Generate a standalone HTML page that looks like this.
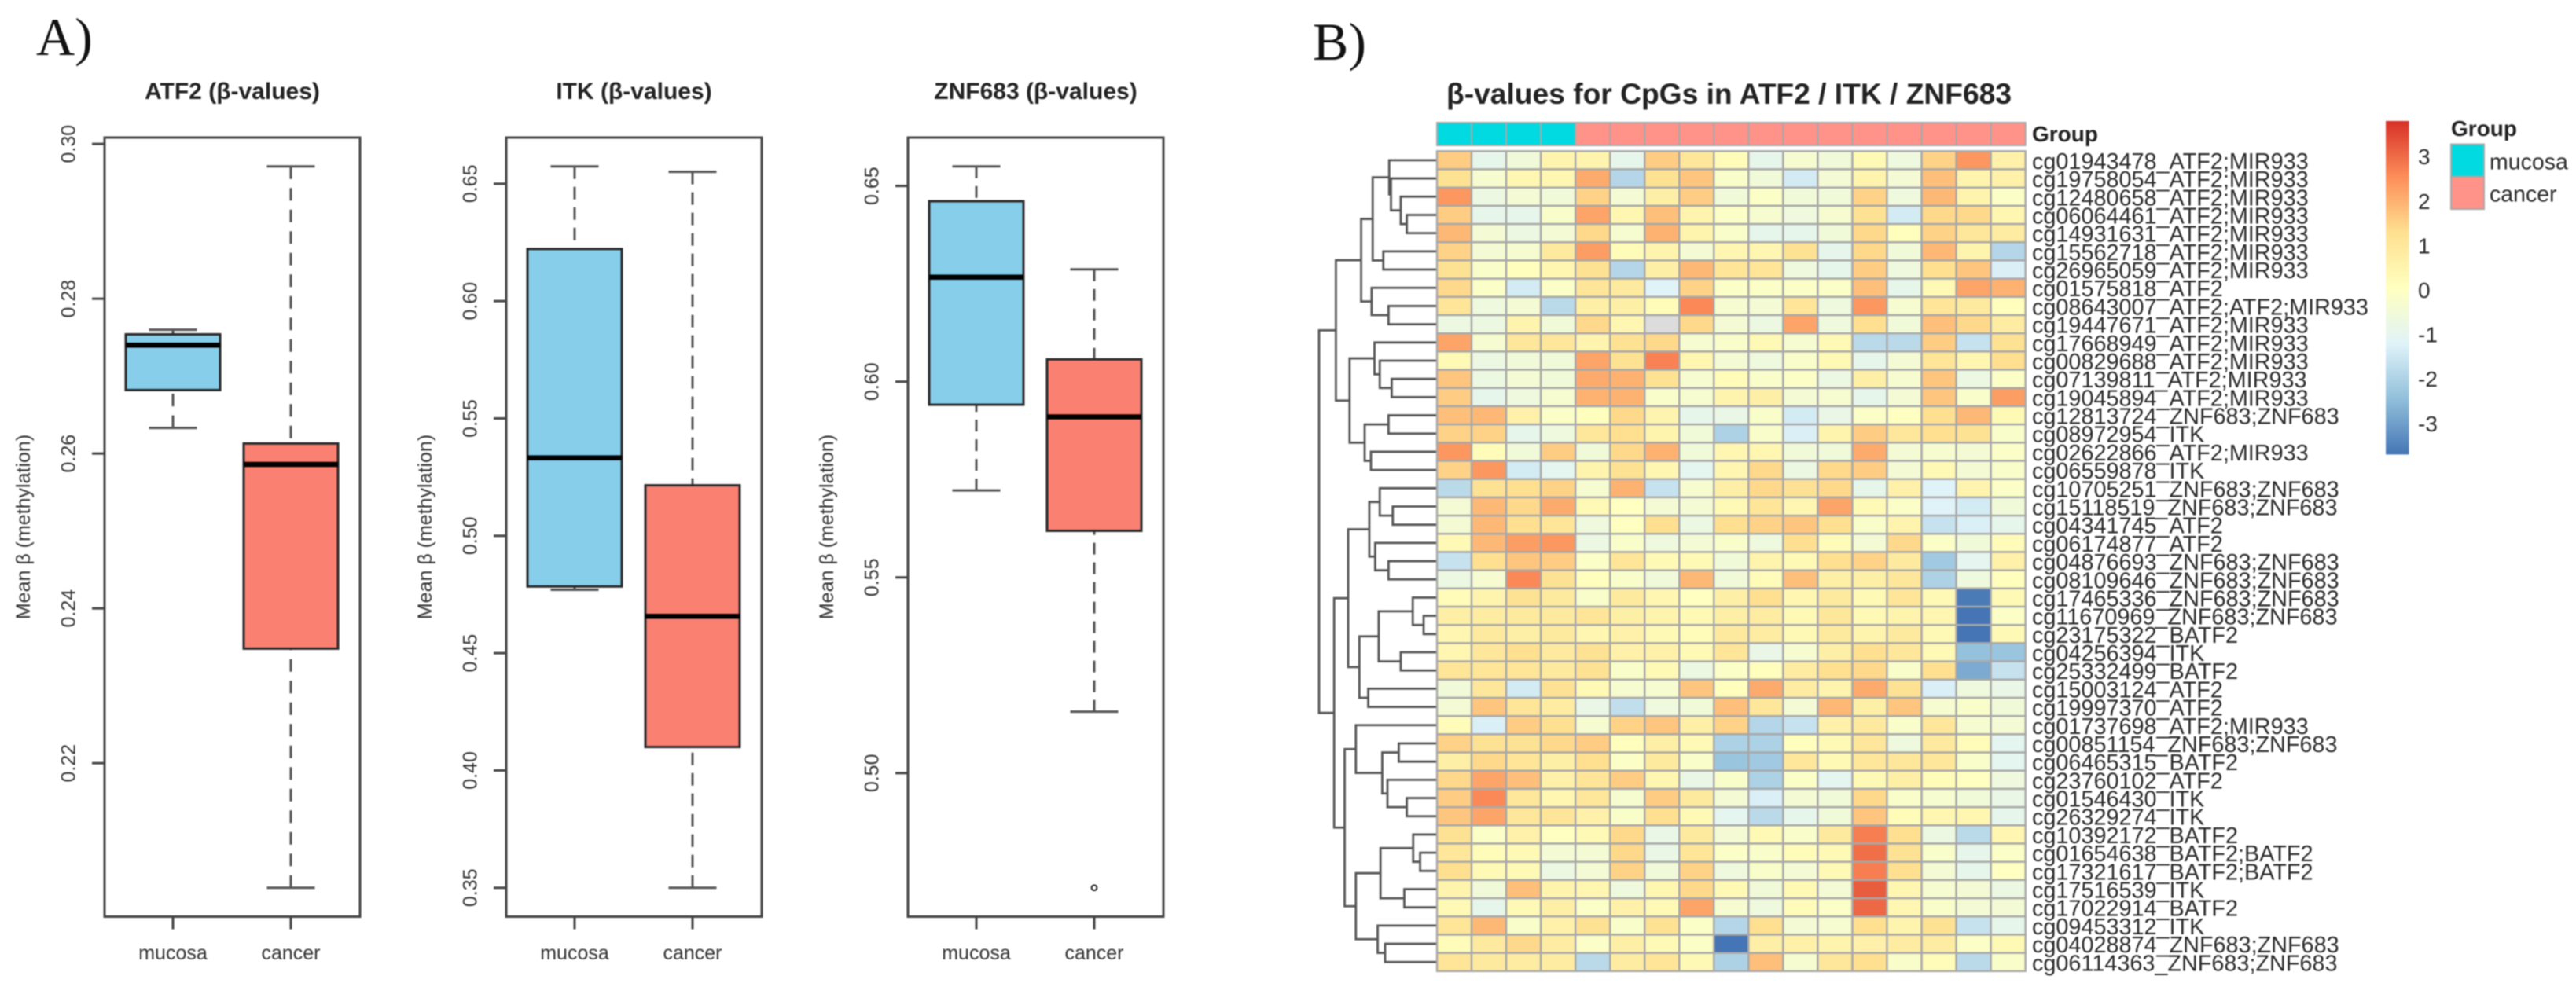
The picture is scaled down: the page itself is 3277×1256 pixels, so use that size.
<!DOCTYPE html>
<html lang="en">
<head>
<meta charset="utf-8">
<title>Methylation boxplots and heatmap for ATF2, ITK and ZNF683</title>
<style>
html,body{margin:0;padding:0;background:#fff;}
svg{display:block;font-family:"Liberation Sans",sans-serif;filter:blur(0.7px);}
.serif{font-family:"Liberation Serif",serif;}
</style>
</head>
<body>
<svg id="figure" xmlns="http://www.w3.org/2000/svg" width="3277" height="1256" viewBox="0 0 3277 1256">
  <rect width="3277" height="1256" fill="#ffffff"/>
  <text class="serif" x="46" y="70" font-size="68" fill="#111">A)</text>
  <text class="serif" x="1670" y="76" font-size="68" fill="#111">B)</text>
  <g id="panelA"></g>
  <g id="panelB">
    <text x="1840" y="132" font-size="37.2" font-weight="bold" fill="#222">β-values for CpGs in ATF2 / ITK / ZNF683</text>
    <text x="2585" y="180" font-size="28" font-weight="bold" fill="#222">Group</text>
    <g id="annotationBar"></g>
    <g id="dendrogram"></g>
    <g id="heatCells"></g>
    <g id="rowLabels"></g>
    <g id="colorbar"></g>
    <g id="groupLegend"></g>
  </g>
</svg>
<script>
// ---------- Boxplot data: [lower whisker, Q1, median, Q3, upper whisker] ----------
const boxCategories = ['mucosa', 'cancer'];
const atf2Ticks = [0.22, 0.24, 0.26, 0.28, 0.30];
const atf2Mucosa = [0.2633, 0.2682, 0.2740, 0.2754, 0.2760];
const atf2Cancer = [0.2039, 0.2348, 0.2586, 0.2613, 0.2971];
const atf2Outliers = [];
const itkTicks = [0.35, 0.40, 0.45, 0.50, 0.55, 0.60, 0.65];
const itkMucosa = [0.4770, 0.4784, 0.5332, 0.6222, 0.6574];
const itkCancer = [0.3500, 0.4100, 0.4657, 0.5215, 0.6551];
const itkOutliers = [];
const znfTicks = [0.50, 0.55, 0.60, 0.65];
const znfMucosa = [0.5722, 0.5941, 0.6267, 0.6461, 0.6550];
const znfCancer = [0.5157, 0.5619, 0.5910, 0.6057, 0.6287];
const znfOutliers = [0.4707];

// ---------- Heatmap data ----------
const sampleGroups = ['mucosa','mucosa','mucosa','mucosa','cancer','cancer','cancer','cancer','cancer','cancer','cancer','cancer','cancer','cancer','cancer','cancer','cancer'];
const cpgLabels = [
'cg01943478_ATF2;MIR933','cg19758054_ATF2;MIR933','cg12480658_ATF2;MIR933','cg06064461_ATF2;MIR933','cg14931631_ATF2;MIR933',
'cg15562718_ATF2;MIR933','cg26965059_ATF2;MIR933','cg01575818_ATF2','cg08643007_ATF2;ATF2;MIR933','cg19447671_ATF2;MIR933',
'cg17668949_ATF2;MIR933','cg00829688_ATF2;MIR933','cg07139811_ATF2;MIR933','cg19045894_ATF2;MIR933','cg12813724_ZNF683;ZNF683',
'cg08972954_ITK','cg02622866_ATF2;MIR933','cg06559878_ITK','cg10705251_ZNF683;ZNF683','cg15118519_ZNF683;ZNF683',
'cg04341745_ATF2','cg06174877_ATF2','cg04876693_ZNF683;ZNF683','cg08109646_ZNF683;ZNF683','cg17465336_ZNF683;ZNF683',
'cg11670969_ZNF683;ZNF683','cg23175322_BATF2','cg04256394_ITK','cg25332499_BATF2','cg15003124_ATF2',
'cg19997370_ATF2','cg01737698_ATF2;MIR933','cg00851154_ZNF683;ZNF683','cg06465315_BATF2','cg23760102_ATF2',
'cg01546430_ITK','cg26329274_ITK','cg10392172_BATF2','cg01654638_BATF2;BATF2','cg17321617_BATF2;BATF2',
'cg17516539_ITK','cg17022914_BATF2','cg09453312_ITK','cg04028874_ZNF683;ZNF683','cg06114363_ZNF683;ZNF683'];
const heatValues = [
[1.6,-.9,-.5,.5,.5,-.9,1.6,1.0,.2,-.9,-.3,-.5,.3,-.6,1.5,2.4,.6],
[1.2,-.3,.4,.4,2.1,-1.9,1.2,1.7,-.2,-.5,-1.4,-.4,.5,-.4,1.8,.5,.6],
[2.4,-.7,-.4,-.5,1.5,-.4,.7,1.6,-.5,-.1,-.5,-.5,1.5,-.6,1.9,.5,-.1],
[1.6,-.9,-.9,-.2,2.2,.4,1.8,.5,-.1,-.3,-.6,-.3,1.2,-1.4,1.4,1.4,.4],
[1.9,-.4,-.7,-.4,1.4,-.3,2.0,.5,-.2,-.9,-.9,-.5,1.4,.1,1.5,1.0,.8],
[1.5,-.4,-.3,.9,2.3,.2,.5,-.4,.4,.4,1.2,-.9,1.4,-.5,1.9,.5,-1.9],
[1.2,-.2,.1,.4,1.2,-1.9,.7,1.9,1.1,1.1,-.6,-.9,1.6,-.6,1.3,1.7,-1.3],
[1.4,-.1,-1.4,-.1,1.1,.9,-1.2,1.5,-.1,-.1,-.1,-.1,1.8,-.9,.3,2.2,2.0],
[1.1,-.6,-.4,-1.8,.7,.7,.2,2.6,-.3,-.4,1.1,-.6,2.4,-.3,1.1,.9,.1],
[-.7,-.7,.5,-.5,1.4,.4,null,1.4,-.4,-.7,2.2,-.6,1.3,-.5,1.8,1.4,.8],
[2.2,-.3,1.0,1.0,.5,1.2,1.4,-.3,-.2,.3,-.3,.3,-1.8,-1.8,1.6,-1.6,1.2],
[.3,-.7,-.5,-.5,2.2,1.2,2.7,.4,-.4,-.6,-.2,.3,-.9,-.4,1.1,.4,1.3],
[1.7,-.7,-.4,-.5,2.1,2.0,1.2,-.3,.2,-.2,-.1,-.7,.7,-.3,1.7,-.7,-.1],
[1.6,-.9,-.6,-.3,2.0,2.0,-.2,-.3,.5,.7,-.4,-.3,-.9,-.4,1.7,-.2,2.3],
[1.8,1.9,.6,-.1,.1,1.4,.5,-.9,-.8,-.2,-1.4,-.8,-.1,0,1.3,1.9,.3],
[1.5,1.5,-.9,-.6,1.0,1.3,.5,-.5,-2.0,-.2,-1.3,.5,1.6,1.0,1.3,1.2,-.2],
[2.4,.2,-.5,1.6,-.5,1.4,2.0,-.5,.4,.4,-.5,-.5,2.1,-.4,-.3,-.4,-.1],
[1.5,2.4,-1.4,-1.0,.5,1.2,.4,-1.0,.4,1.4,-.7,1.4,1.6,-.4,.3,-.4,-.2],
[-1.8,1.2,1.3,1.5,-.3,2.0,-1.6,-.3,.7,1.4,1.2,1.4,-.9,.6,-1.2,.5,-.1],
[-.4,1.9,1.4,2.1,.3,0,-.4,-.4,.3,1.1,.4,2.2,.3,-.1,-1.2,-1.4,-.5],
[-.4,1.9,1.3,1.1,-.6,0,1.3,-.7,1.3,1.5,1.7,1.3,-.2,.5,-1.6,-1.3,-.9],
[.3,1.9,2.3,2.4,-.7,-.2,-.6,-.4,-.2,-.6,1.3,.2,-.4,1.4,-.1,-.5,.2],
[-1.6,1.3,1.7,1.6,-.1,1.1,.3,.3,-.5,.5,.3,1.3,1.5,.9,-2.2,-1.0,.6],
[-.7,-.3,2.6,1.2,.1,-.2,-.5,1.9,-.5,.2,1.8,.7,.7,1.0,-2.0,-.6,.1],
[.2,.5,1.2,.9,-.2,.9,.4,0,.7,1.3,.4,.9,.3,1.1,.3,-3.6,.3],
[.7,.8,.9,.9,1.1,.7,.5,.3,.7,.8,.3,1.0,.3,.5,.4,-3.7,-.1],
[.4,.9,.7,.9,.4,.6,.3,.2,.9,.8,.3,.9,.5,.9,.3,-3.7,.3],
[.4,1.0,1.3,.9,1.2,.6,.6,.3,1.1,-.8,-.3,.7,1.3,1.0,.3,-2.4,-2.3],
[1.1,1.1,1.1,.9,1.2,-.2,.3,-.7,-.1,.1,.8,1.3,1.4,-.2,1.3,-2.8,-1.6],
[-.5,1.0,-1.4,1.2,.3,-.3,-.3,1.7,.1,2.1,.8,.5,2.1,1.2,-1.3,-.6,-.8],
[-.4,1.7,1.1,.8,-.8,-1.7,-.6,-.5,1.8,1.0,-.4,1.9,.7,1.7,-.3,-.2,-.5],
[.2,-1.3,1.6,1.3,-.3,1.5,1.7,.7,1.5,-1.9,-1.6,.6,.9,-.2,1.0,-.3,-.4],
[1.5,1.2,1.2,1.4,1.6,.1,.7,.3,-2.0,-2.0,.1,.3,1.0,-.6,.9,.2,-1.0],
[.7,1.4,1.1,.7,1.3,-.1,.9,-.2,-2.3,-2.2,1.0,.3,1.0,1.0,1.0,-.2,-1.0],
[1.4,2.2,1.8,.6,1.1,1.6,.4,-.8,-.2,-2.0,-.1,-1.0,.3,.7,.2,0,-.6],
[1.6,2.6,1.0,.4,1.0,-.3,1.6,.9,-.4,-1.3,-.4,-.5,1.4,-.2,-.3,-.5,-.8],
[1.7,2.2,1.0,1.1,.6,-.2,1.3,.3,-1.0,-1.8,-.9,-.5,1.7,.2,.4,.4,-.9],
[1.2,-.1,.6,0,.3,1.4,-.8,.9,-.4,.3,-.2,.9,2.75,1.3,-.7,-1.8,.4],
[1.0,.2,.3,-.4,-.4,1.4,-.8,1.1,-.1,-.2,.2,.3,2.95,1.2,-.2,-.9,-.1],
[1.3,.3,.3,-.7,-.4,1.5,-.5,1.5,-.6,-.2,-.4,.3,2.75,1.3,-.4,-.9,0],
[.5,-.5,1.8,.5,.4,-.6,.4,1.4,.3,-.5,.3,-.4,3.2,.4,-.3,-.4,-.7],
[.3,-.9,.3,.7,-.1,.6,.3,2.2,-.3,-.6,.2,-.1,3.05,.4,-.2,-.4,-.4],
[1.1,1.9,-.2,.6,1.2,-.2,1.2,-.1,-1.9,1.3,-.4,-.3,1.3,.5,1.2,-1.6,-.9],
[.2,.9,1.4,.8,-.1,.7,.3,-.1,-3.7,.7,.6,.5,.6,.8,.8,-.1,.3],
[1.1,.9,.8,.8,-1.8,.8,1.1,.3,-2.0,1.8,-.3,1.0,1.3,-.2,.2,-1.8,-.2]
];
const colorTicks = [3, 2, 1, 0, -1, -2, -3];
const colorDomain = [-3.7, 3.8];
const paletteStops = ['#4575B4','#91BFDB','#E0F3F8','#FFFFBF','#FEE090','#FC8D59','#D73027'];
// Row dendrogram: [merge height, child, child]; a bare number is a row index.
const dendroTree = [1,
  [.857,
    [.643,
      [.545,
        [.405, 0, [.390, 1, [.307, 2, [.256, 3, 4]]]],
        [.455, 5, 6]],
      [.554, 7, [.411, 8, 9]]],
    [.741,
      [.530, 10, [.485, 11, [.384, 12, 13]]],
      [.613, [.411, 14, 15], [.560, 16, 17]]]],
  [.872,
    [.753,
      [.574,
        [.485, 18, [.375, 19, 20]],
        [.524, 21, [.411, 22, 23]]],
      [.658,
        [.494, [.205, 24, [.113, 25, 26]], [.307, 27, 28]],
        [.583, 29, 30]]],
    [.783,
      [.688, 31, [.464, [.324, 32, 33], [.420, 34, [.256, 35, 36]]]],
      [.688,
        [.479, [.202, 37, [.143, 38, 39]], [.277, 40, 41]],
        [.503, 42, [.440, 43, 44]]]]]];

// ---------- Helpers ----------
const NS = 'http://www.w3.org/2000/svg';
function mk(parent, tag, attrs, text) {
  const el = document.createElementNS(NS, tag);
  for (const k in attrs) el.setAttribute(k, attrs[k]);
  if (text !== undefined) el.textContent = text;
  parent.appendChild(el);
  return el;
}
function slug(s) { return s.toLowerCase().replace(/[^a-z0-9]+/g, '-'); }

// ---------- Boxplots ----------
const frameTop = 175, frameBottom = 1166.5, frameWidth = 325;
const inkColor = '#444', textColor = '#333';
const boxFills = ['#87CEEB', '#FA8072'];
function drawBoxplot(root, key, title, left, ticks, series, outliers, dash) {
  const g = mk(root, 'g', {});
  
  
  const all = series.flat().concat(outliers);
  const lo = Math.min.apply(null, all), hi = Math.max.apply(null, all);
  const ext = (hi - lo) * 0.04;
  const y = v => frameBottom - (v - (lo - ext)) / ((hi + ext) - (lo - ext)) * (frameBottom - frameTop);
  const x = i => left + 87 + 150 * i;

  const t = mk(g, 'text', {x: left + frameWidth / 2, y: 126, 'text-anchor': 'middle', 'font-size': 30, 'font-weight': 'bold', fill: '#222'}, title);
  
  

  const yl = mk(g, 'text', {x: left - 104, y: 670.5, dy: '.35em', 'text-anchor': 'middle', 'font-size': 25, fill: textColor, transform: 'rotate(-90 ' + (left - 104) + ' 670.5)'}, 'Mean β (methylation)');
  
  

  ticks.forEach(v => {
    const py = y(v);
    const tk = mk(g, 'line', {x1: left - 16, x2: left, y1: py, y2: py, stroke: inkColor, 'stroke-width': 3});
    
    
    const lb = mk(g, 'text', {x: left - 46, y: py, dy: '.35em', 'text-anchor': 'middle', 'font-size': 25, fill: textColor, transform: 'rotate(-90 ' + (left - 46) + ' ' + py + ')'}, v.toFixed(2));
    
    
  });

  series.forEach((s, i) => {
    const cx = x(i);
    const cat = boxCategories[i];
    const upper = mk(g, 'line', {x1: cx, x2: cx, y1: y(s[4]), y2: y(s[3]), stroke: '#555', 'stroke-width': 3, 'stroke-dasharray': dash});
    
    
    const lower = mk(g, 'line', {x1: cx, x2: cx, y1: y(s[0]), y2: y(s[1]), stroke: '#555', 'stroke-width': 3, 'stroke-dasharray': dash});
    
    
    [s[0], s[4]].forEach(v => {
      const cap = mk(g, 'line', {x1: cx - 30.5, x2: cx + 30.5, y1: y(v), y2: y(v), stroke: '#555', 'stroke-width': 3});
      
      
    });
    const box = mk(g, 'rect', {x: cx - 60, width: 120, y: y(s[3]), height: y(s[1]) - y(s[3]), fill: boxFills[i], stroke: '#2a2a2a', 'stroke-width': 3});
    
    
    const med = mk(g, 'line', {x1: cx - 60, x2: cx + 60, y1: y(s[2]), y2: y(s[2]), stroke: '#000', 'stroke-width': 6.5});
    
    
    const xt = mk(g, 'line', {x1: cx, x2: cx, y1: frameBottom, y2: frameBottom + 16, stroke: inkColor, 'stroke-width': 3});
    
    
    const xl = mk(g, 'text', {x: cx, y: 1221, 'text-anchor': 'middle', 'font-size': 25, fill: textColor}, cat);
    
    
  });

  outliers.forEach(v => {
    const o = mk(g, 'circle', {cx: x(1), cy: y(v), r: 3.4, fill: 'none', stroke: '#222', 'stroke-width': 2});
    
    
  });

  const frame = mk(g, 'rect', {x: left, y: frameTop, width: frameWidth, height: frameBottom - frameTop, fill: 'none', stroke: inkColor, 'stroke-width': 3});
  
  
}
const panelA = document.getElementById('panelA');
drawBoxplot(panelA, 'atf2', 'ATF2 (β-values)', 133, atf2Ticks, [atf2Mucosa, atf2Cancer], atf2Outliers, '16 11.5');
drawBoxplot(panelA, 'itk', 'ITK (β-values)', 644, itkTicks, [itkMucosa, itkCancer], itkOutliers, '16 10');
drawBoxplot(panelA, 'znf683', 'ZNF683 (β-values)', 1155, znfTicks, [znfMucosa, znfCancer], znfOutliers, '15 10');

// ---------- Heatmap ----------
const heatLeft = 1828, cellW = 44.04, heatTop = 192.3, cellH = 23.19;
const groupColors = {mucosa: '#00DAE0', cancer: '#FF9289'};
const gridColor = '#a8a8a8';
function hex2rgb(h) { return [1, 3, 5].map(i => parseInt(h.substr(i, 2), 16)); }
function heatColor(v) {
  if (v === null) return '#dcdcdc';
  const t = Math.max(0, Math.min(1, (v - colorDomain[0]) / (colorDomain[1] - colorDomain[0]))) * (paletteStops.length - 1);
  const i = Math.min(paletteStops.length - 2, Math.floor(t));
  const a = hex2rgb(paletteStops[i]), b = hex2rgb(paletteStops[i + 1]), f = t - i;
  return 'rgb(' + a.map((c, k) => Math.round(c + (b[k] - c) * f)).join(',') + ')';
}
const rowCenter = r => heatTop + cellH * (r + 0.5);
const colX = c => heatLeft + cellW * c;

const annotationBar = document.getElementById('annotationBar');
sampleGroups.forEach((grp, c) => {
  const r = mk(annotationBar, 'rect', {x: colX(c), y: 156, width: cellW, height: 29, fill: groupColors[grp], stroke: gridColor, 'stroke-width': 2});
  
  
});

const heatCells = document.getElementById('heatCells');
heatValues.forEach((row, r) => {
  row.forEach((v, c) => {
    const cell = mk(heatCells, 'rect', {x: colX(c), y: heatTop + cellH * r, width: cellW, height: cellH, fill: heatColor(v), stroke: gridColor, 'stroke-width': 2.4});
    
    
  });
});

const rowLabels = document.getElementById('rowLabels');
cpgLabels.forEach((txt, r) => {
  const l = mk(rowLabels, 'text', {x: 2585, y: rowCenter(r) + 11, 'font-size': 28.8, fill: '#2a2a2a'}, txt);
  
  
});

// ---------- Dendrogram ----------
const dendroG = document.getElementById('dendrogram');
const dendroScale = 150;
function drawNode(node) {
  if (typeof node === 'number') return {x: heatLeft, y: rowCenter(node)};
  const a = drawNode(node[1]), b = drawNode(node[2]);
  const nx = heatLeft - node[0] * dendroScale;
  const p = mk(dendroG, 'path', {d: 'M' + a.x + ' ' + a.y + 'H' + nx + 'V' + b.y + 'H' + b.x, fill: 'none', stroke: '#555', 'stroke-width': 2.8});
  
  
  return {x: nx, y: (a.y + b.y) / 2};
}
drawNode(dendroTree);

// ---------- Colour scale ----------
const colorbar = document.getElementById('colorbar');
const zeroY = 369, unitPx = 56.6;
const barY = v => zeroY - unitPx * v;
const defs = mk(colorbar, 'defs', {});
const grad = mk(defs, 'linearGradient', {id: 'heatGrad', x1: 0, y1: 1, x2: 0, y2: 0});
paletteStops.forEach((col, i) => {
  mk(grad, 'stop', {offset: i / (paletteStops.length - 1), 'stop-color': col});
});
const bar = mk(colorbar, 'rect', {x: 3035, y: barY(colorDomain[1]), width: 29.5, height: barY(colorDomain[0]) - barY(colorDomain[1]), fill: 'url(#heatGrad)'});


colorTicks.forEach(v => {
  const t = mk(colorbar, 'text', {x: 3076, y: barY(v) + 10, 'font-size': 28, fill: '#2a2a2a'}, String(v));
  
  
});

// ---------- Group legend ----------
const groupLegend = document.getElementById('groupLegend');
const legendTitle = mk(groupLegend, 'text', {x: 3118, y: 173, 'font-size': 28, 'font-weight': 'bold', fill: '#222'}, 'Group');


['mucosa', 'cancer'].forEach((grp, i) => {
  const sw = mk(groupLegend, 'rect', {x: 3118, y: 183.5 + 41.3 * i, width: 42, height: 41.3, fill: groupColors[grp], stroke: gridColor, 'stroke-width': 2});
  
  
  const tx = mk(groupLegend, 'text', {x: 3167, y: 215.5 + 41 * i, 'font-size': 28.5, fill: '#2a2a2a'}, grp);
  
  
});
</script>
</body>
</html>
